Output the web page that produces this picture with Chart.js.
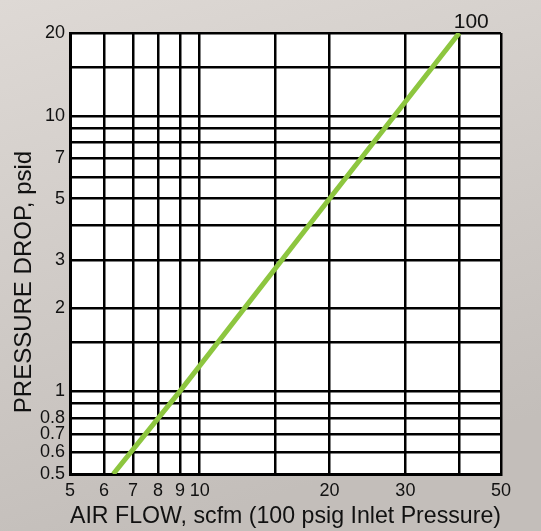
<!DOCTYPE html>
<html>
<head>
<meta charset="utf-8">
<script src="https://cdn.jsdelivr.net/npm/chart.js@4"></script>
<style>
  html, body { margin: 0; padding: 0; }
  #wrap { width: 541px; height: 531px; position: relative; }
</style>
</head>
<body>
<div id="wrap"><canvas id="dropChart"></canvas></div>
<script>
// values (pressure drop rises with the square of flow)
const airFlow = [6.3, 9, 20, 40];
const pressureDrop = [0.5, 1.0, 5, 20];
const curveLabel = '100';
const yTitle = 'PRESSURE DROP, psid';

// grid lines and the ones that carry a label
const xGrid = [5, 6, 7, 8, 9, 10, 15, 20, 30, 40, 50];
const xLabels = [5, 6, 7, 8, 9, 10, 20, 30, 50];
const yGrid = [0.5, 0.6, 0.7, 0.8, 0.9, 1, 1.5, 2, 3, 4, 5, 6, 7, 8, 9, 10, 15, 20];
const yLabels = [0.5, 0.6, 0.7, 0.8, 1, 2, 3, 5, 7, 10, 20];

const font = 'Liberation Sans, Arial, sans-serif';

const backdrop = {
  id: 'backdrop',
  beforeDraw(chart) {
    const { ctx, width, height, chartArea } = chart;
    ctx.save();
    const g = ctx.createLinearGradient(0, 0, width * 0.3, height);
    g.addColorStop(0, '#ded9d5');
    g.addColorStop(1, '#c3beba');
    ctx.fillStyle = g;
    ctx.fillRect(0, 0, width, height);
    ctx.fillStyle = '#ffffff';
    ctx.fillRect(chartArea.left, chartArea.top, chartArea.right - chartArea.left, chartArea.bottom - chartArea.top);
    ctx.restore();
  }
};

// curve tag at the top end, and the y title (sits a bit below centre in the original)
const labels = {
  id: 'labels',
  afterDatasetsDraw(chart) {
    const pt = chart.getDatasetMeta(0).data[airFlow.length - 1];
    const ctx = chart.ctx;
    ctx.save();
    ctx.fillStyle = '#111';
    ctx.font = '21px ' + font;
    ctx.textAlign = 'center';
    ctx.textBaseline = 'alphabetic';
    ctx.fillText(curveLabel, pt.x + 12, pt.y - 5);

    ctx.translate(24, 282);
    ctx.rotate(-Math.PI / 2);
    ctx.font = '24px ' + font;
    ctx.textBaseline = 'middle';
    ctx.fillText(yTitle, 0, 0);
    ctx.restore();
  }
};

new Chart(document.getElementById('dropChart'), {
  type: 'line',
  data: {
    datasets: [{
      data: airFlow.map((x, i) => ({ x: x, y: pressureDrop[i] })),
      borderColor: '#8dc63f',
      borderWidth: 5,
      pointRadius: 0,
      fill: false,
      tension: 0
    }]
  },
  options: {
    responsive: true,
    maintainAspectRatio: false,
    animation: false,
    layout: { padding: { top: 33, right: 40, left: 0, bottom: 0 } },
    plugins: { legend: { display: false }, tooltip: { enabled: false } },
    scales: {
      x: {
        type: 'logarithmic',
        min: 5,
        max: 50,
        afterBuildTicks: s => { s.ticks = xGrid.map(v => ({ value: v })); },
        afterFit: s => { s.height = 57; },
        grid: { color: '#000', lineWidth: 2.5, drawTicks: false },
        border: { color: '#000', width: 3 },
        ticks: {
          autoSkip: false,
          maxRotation: 0,
          padding: 6,
          color: '#111',
          font: { family: font, size: 18 },
          callback: v => xLabels.includes(v) ? String(v) : ''
        },
        title: {
          display: true,
          text: 'AIR FLOW, scfm (100 psig Inlet Pressure)',
          color: '#111',
          font: { family: font, size: 24 },
          padding: { top: 0, bottom: 0 }
        }
      },
      y: {
        type: 'logarithmic',
        min: 0.5,
        max: 20,
        afterBuildTicks: s => { s.ticks = yGrid.map(v => ({ value: v })); },
        afterFit: s => { s.width = 70; },
        grid: { color: '#000', lineWidth: 2.5, drawTicks: false },
        border: { color: '#000', width: 3 },
        ticks: {
          autoSkip: false,
          padding: 5,
          color: '#111',
          font: { family: font, size: 18 },
          callback: v => yLabels.includes(v) ? String(v) : ''
        }
      }
    }
  },
  plugins: [backdrop, labels]
});
</script>
</body>
</html>
